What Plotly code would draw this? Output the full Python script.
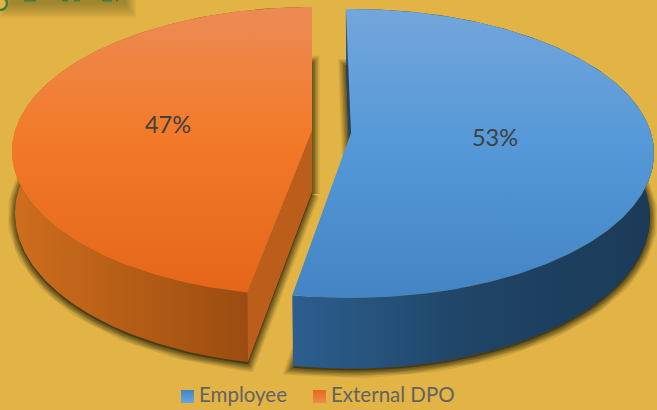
import numpy as np
import plotly.graph_objects as go

categories = ["Employee", "External DPO"]
shares = [53, 47]
percent_labels = ["53%", "47%"]

W, H = 657, 410
BG = "#E2B345"
K = 0.1415


def project(theta, apex_x, apex_y, a, b):
    u, v = np.sin(theta), -np.cos(theta)
    s = 1 / (1 - K * v)
    return apex_x + a * u * s, apex_y + b * v * s


def ring(start, end, g):
    t = np.radians(np.linspace(start, end, 240))
    return project(t, *g)


total = sum(shares)
span_blue = 360 * shares[0] / total
span_orange = 360 * shares[1] / total

blue_start, blue_end = -1.1, -1.1 + span_blue
orange_start, orange_end = span_blue, span_blue + span_orange

blue_top = (351, 133, 300, 141.6)
blue_bot = (351, 195, 296, 149)
orange_top = (312, 131, 297, 141.6)
orange_bot = (312, 192, 294, 149)

fig = go.Figure()


def poly(x, y, colors=None, kind="vertical", solid=None, name=None):
    kw = dict(x=list(x), y=list(y), mode="lines", fill="toself", hoverinfo="skip",
              showlegend=False, line=dict(width=0, color="rgba(0,0,0,0)"))
    if colors:
        kw["fillgradient"] = dict(type=kind, colorscale=colors)
    else:
        kw["fillcolor"] = solid
    fig.add_trace(go.Scatter(**kw))


def shadow(x, y, dy=2):
    yy = np.array(y) + dy
    for w, al in [(15, .11), (12, .15), (9, .19), (6, .23), (3, .28)]:
        fig.add_trace(go.Scatter(x=list(x), y=list(yy), mode="lines", fill="toself",
                                 fillcolor=f"rgba(50,45,15,{al})", hoverinfo="skip", showlegend=False,
                                 line=dict(width=w, color=f"rgba(50,45,15,{al})")))


def closed(arc, apex):
    return np.r_[apex[0], arc[0], apex[0]], np.r_[apex[1], arc[1], apex[1]]


# heading shadow remnant, cut by the top of the picture
for i in range(8):
    fig.add_shape(type="rect", x0=i * 1.5, x1=136 - i * 1.5, y0=-4, y1=18 - i * 2, line_width=0,
                  fillcolor="rgba(90,80,30,0.07)", layer="below")
fig.add_shape(type="circle", x0=-7, x1=7, y0=-3, y1=10, line=dict(color="#3E7D3A", width=2.5),
              fillcolor="#E2B345", layer="below")
for x0, x1 in [(24, 36), (62, 68), (74, 80), (102, 112), (116, 118)]:
    fig.add_shape(type="rect", x0=x0, x1=x1, y0=0, y1=1.5, line_width=0, fillcolor="#3E7D3A", layer="below")

# shadows
ob = ring(orange_start, orange_end, orange_bot)
bb = ring(blue_start, blue_end, blue_bot)
shadow(*closed(ob, (orange_bot[0], orange_bot[1])))
shadow(*closed(bb, (blue_bot[0], blue_bot[1])))

# blue walls
bt = ring(blue_start, blue_end, blue_top)
poly([bt[0][0], blue_top[0], blue_bot[0], bb[0][0]], [bt[1][0], blue_top[1], blue_bot[1], bb[1][0]],
     solid="#1F4468")
poly(np.r_[bt[0], bb[0][::-1]], np.r_[bt[1], bb[1][::-1]],
     colors=[[0, "#2C5E8F"], [.5, "#1F4465"], [1, "#1B3A58"]], kind="horizontal")

# orange walls
ot = ring(orange_start, orange_end, orange_top)
poly(np.r_[ot[0], ob[0][::-1]], np.r_[ot[1], ob[1][::-1]],
     colors=[[0, "#CF6E1E"], [.3, "#BB6118"], [1, "#8E430D"]], kind="horizontal")
poly([orange_top[0], ot[0][0], ob[0][0], orange_bot[0]], [orange_top[1], ot[1][0], ob[1][0], orange_bot[1]],
     solid="#BC5E1B")

# top faces (the gradient runs upward on screen)
x, y = closed(bt, blue_top[:2])
poly(x, y, colors=[[0, "#4284C4"], [.55, "#5699D8"], [1, "#73A6DB"]])
x, y = closed(ot, orange_top[:2])
poly(x, y, colors=[[0, "#E5661A"], [.55, "#F27A29"], [1, "#EC8B55"]])

# slice labels
fig.add_trace(go.Scatter(x=[495, 168], y=[140, 127], mode="text", text=percent_labels,
                         textposition="middle center", showlegend=False, hoverinfo="skip",
                         textfont=dict(family="Lato", size=23.5, color="#404040")))

# key
key_marker_x = [187.5, 319.5]
key_text_x = [199, 331]
key_top = ["#6BA5DD", "#EF8A50"]
key_bottom = ["#3F85C8", "#E8691A"]
fig.add_trace(go.Scatter(x=key_marker_x, y=[396.5, 396.5], mode="markers", showlegend=False, hoverinfo="skip",
                         marker=dict(symbol="square", size=13, color=key_bottom,
                                     gradient=dict(type="vertical", color=key_top))))
fig.add_trace(go.Scatter(x=key_text_x, y=[396.5, 396.5], mode="text", text=categories, showlegend=False,
                         textposition="middle right", hoverinfo="skip",
                         textfont=dict(family="Lato", size=20.5, color="#636363")))

fig.update_layout(width=W, height=H, margin=dict(l=0, r=0, t=0, b=0), paper_bgcolor=BG, plot_bgcolor=BG,
                  showlegend=False,
                  xaxis=dict(range=[0, W], visible=False, fixedrange=True),
                  yaxis=dict(range=[H, 0], visible=False, fixedrange=True))
fig.write_html("out.html", config=dict(displayModeBar=False),
               post_script="document.body.style.margin='0';document.body.style.overflow='hidden';"
                           "document.body.style.background='#E2B345';")
